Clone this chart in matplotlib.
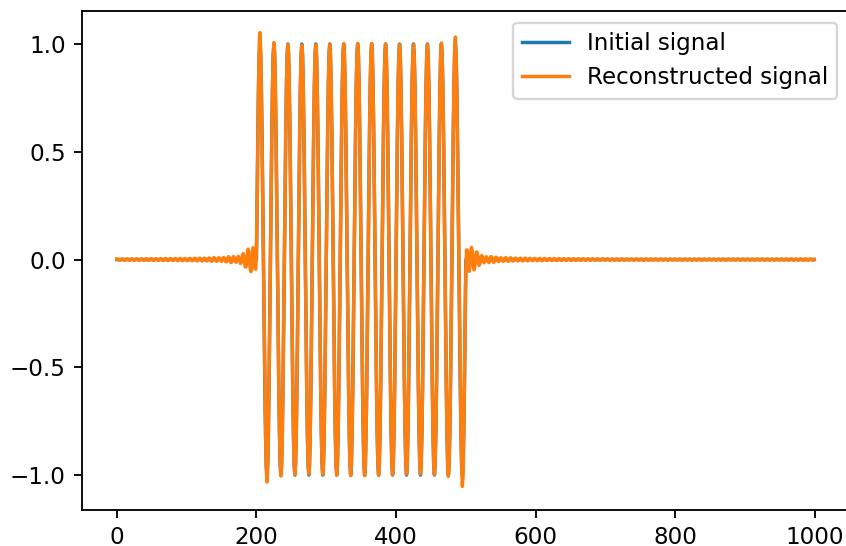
import numpy as np
import matplotlib
matplotlib.use("Agg")
import matplotlib.pyplot as plt

# signal parameters
n_samples = 1000
burst_start = 200
burst_end = 500
period = 20
cut_bin = 145         # spectral cut of the reconstruction (ripple period ~7 samples)
ramp_bin = 100        # bins above this get boosted towards the cut
ringing_gain = 3.0    # edge ringing in the picture is ~3x a plain spectral cut

t = np.arange(n_samples)
initial = np.where((t >= burst_start) & (t < burst_end),
                   np.sin(2 * np.pi * (t - burst_start) / period), 0.0)

spec = np.fft.rfft(initial)
k = np.arange(spec.size)
weights = 1 + (ringing_gain - 1) * np.clip((k - ramp_bin) / (cut_bin - ramp_bin), 0, 1)
weights[k >= cut_bin] = 0
reconstructed = np.fft.irfft(spec * weights, n_samples)

dpi = 166
fig = plt.figure(figsize=(846 / dpi, 546 / dpi), dpi=dpi)
ax = fig.add_axes([82 / 846, 1 - 510 / 546, (849 - 82) / 846, (510 - 11) / 546])
ax.plot(t, initial, label="Initial signal")
ax.plot(t, reconstructed, label="Reconstructed signal")
ax.set_yticks([-1.0, -0.5, 0.0, 0.5, 1.0])
ax.set_ylim(-1.162, 1.153)
ax.legend(loc="upper right")
fig.savefig("out.png", dpi=dpi)
